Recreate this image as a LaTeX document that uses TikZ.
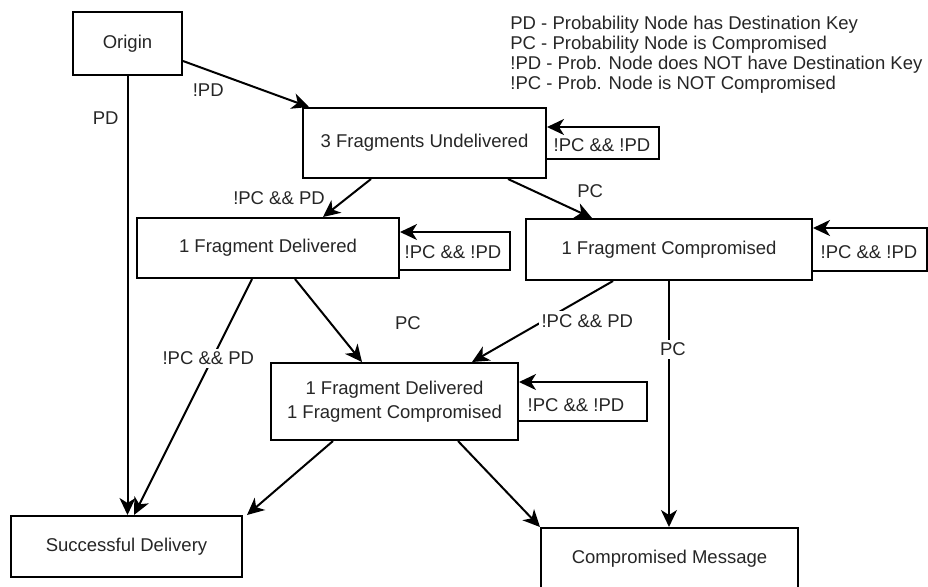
\documentclass[tikz,border=0pt]{standalone}
\usepackage{fontspec}
\setmainfont{Liberation Sans}
\usetikzlibrary{arrows.meta,calc}
\begin{document}
\begin{tikzpicture}[x=0.5pt,y=-0.5pt,
  every node/.style={font=\fontsize{9.25}{12}\selectfont, text=black!85},
  stbox/.style={draw=black, line width=1pt, inner sep=0pt, align=center, fill=white},
  arr/.style={draw=black, line width=1pt, -{Stealth[length=8.5pt,width=8pt,inset=2.5pt]}},
  lbl/.style={inner sep=1pt},
  lblw/.style={inner sep=1.5pt, fill=white},
]
\useasboundingbox (0,0) rectangle (928,586);
% states
\node[stbox, minimum width=54.5pt, minimum height=31.5pt] (o) at (127.5,43.5) {Origin};
\node[stbox, minimum width=121.5pt, minimum height=35pt] (u) at (424.5,143) {3 Fragments Undelivered};
\node[stbox, minimum width=131pt, minimum height=30pt] (d) at (268,248) {1 Fragment Delivered};
\node[stbox, minimum width=143pt, minimum height=30.5pt] (c) at (669,249.5) {1 Fragment Compromised};
\node[stbox, minimum width=123.5pt, minimum height=38.5pt] (dc) at (394.5,401.5) {1 Fragment Delivered\\1 Fragment Compromised};
\node[stbox, minimum width=115.5pt, minimum height=30.5pt] (s) at (126.5,546.5) {Successful Delivery};
\node[stbox, minimum width=128.5pt, minimum height=30.5pt] (m) at (669.5,558.5) {Compromised Message};
% legend
\node[lbl, anchor=base west, inner sep=0pt] (g1) at (510,29) {PD - Probability Node has Destination Key};
\node[lbl, anchor=base west, inner sep=0pt] (g2) at (510,49) {PC - Probability Node is Compromised};
\node[lbl, anchor=base west, inner sep=0pt] (g3) at (510,69) {!PD - Prob. Node does NOT have Destination Key};
\node[lbl, anchor=base west, inner sep=0pt] (g4) at (510,89) {!PC - Prob. Node is NOT Compromised};
% transitions
\draw[arr] ([yshift=-8.75pt]o.east) -- node[lbl, pos=0.2, yshift=-10pt] (lopd) {!PD} ([xshift=3.5pt]u.north west);
\draw[arr] (o.south) -- node[lbl, pos=0.095, anchor=east, xshift=-3pt] (lpd) {PD} (o.south |- s.north);
\draw[arr] ([xshift=-26.75pt]u.south) -- node[lbl, pos=0.5, xshift=-34pt] (l1) {!PC \&\& PD} ([xshift=27.5pt]d.north);
\draw[arr] ([xshift=41.75pt]u.south) -- node[lbl, pos=0.3, xshift=28.5pt] (l2) {PC} ([xshift=-38.5pt]c.north);
\draw[arr] ([xshift=-8pt]d.south) -- node[lblw, pos=0.336, xshift=-2pt] (l3) {!PC \&\& PD} ([xshift=3.75pt]s.north);
\draw[arr] ([xshift=13.5pt]d.south) -- node[lbl, pos=0.5, xshift=39.75pt, yshift=-1.25pt] (l4) {PC} ([xshift=-16.25pt]dc.north);
\draw[arr] ([xshift=-28pt]c.south) -- node[lblw, pos=0.494, xshift=22pt] (l5) {!PC \&\& PD} ([xshift=38.75pt]dc.north);
\draw[arr] (c.south) -- node[lblw, pos=0.278, xshift=2pt] (l6) {PC} (c.south |- m.north);
\draw[arr] ([xshift=-30.75pt]dc.south) -- ([xshift=2pt]s.north east);
\draw[arr] ([xshift=31.75pt]dc.south) -- (m.north west);
% self loops
\draw[arr] ([yshift=-8pt]u.east) -- ++(112,0) -- ++(0,-32) -- ([yshift=8pt]u.east);
\node[lbl] (lu) at ([xshift=27.5pt,yshift=-1pt]u.east) {!PC \&\& !PD};
\draw[arr] ([yshift=-11pt]d.east) -- ++(110,0) -- ++(0,-38) -- ([yshift=8pt]d.east);
\node[lbl] (ld) at ([xshift=26.5pt,yshift=-2pt]d.east) {!PC \&\& !PD};
\draw[arr] ([yshift=-10.75pt]c.east) -- ++(114,0) -- ++(0,-43) -- ([yshift=10.75pt]c.east);
\node[lbl] (lc) at ([xshift=28pt,yshift=-1.25pt]c.east) {!PC \&\& !PD};
\draw[arr] ([yshift=-9.75pt]dc.east) -- ++(128,0) -- ++(0,-39) -- ([yshift=9.75pt]dc.east);
\node[lbl] (ldc) at ([xshift=28.5pt,yshift=-2pt]dc.east) {!PC \&\& !PD};
\end{tikzpicture}
\end{document}
